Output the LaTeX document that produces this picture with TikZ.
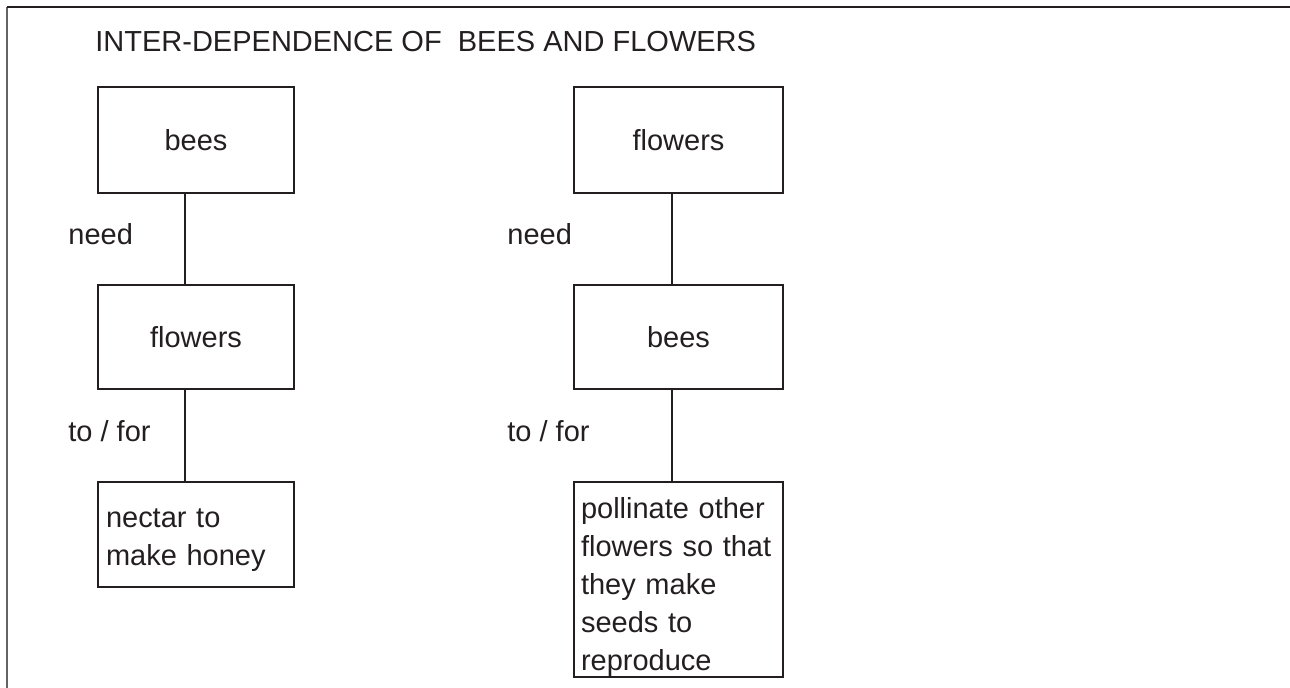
\documentclass[tikz,border=0pt]{standalone}
\usepackage{fontspec}
\setmainfont{Liberation Sans}
\definecolor{ink}{HTML}{231F20}
% left-set lines, dropped a little inside their box
\newcommand{\boxlines}[2]{\raisebox{#1}[\height][\depth]{\begin{tabular}{@{}l@{}}#2\end{tabular}}}
\begin{document}
\begin{tikzpicture}[x=0.5pt,y=-0.5pt,
  every node/.style={font=\fontsize{14.5pt}{19pt}\selectfont, text=ink},
  box/.style={draw=ink, line width=1.25pt, inner sep=0pt},
  tag/.style={anchor=base west, inner sep=0pt},
  link/.style={draw=ink, line width=1.25pt}]
\useasboundingbox (0,0) rectangle (1290,688);

% open frame: left and top edges only
\draw[ink!70, line width=1pt] (7,688) -- (7,7);
\draw[ink, line width=1pt] (7,7) -- (1290,7);

\node[tag] (title) at (95,52) {INTER-DEPENDENCE OF\ \ BEES AND FLOWERS};

% left chain: bees need flowers
\node[box, minimum width=98pt, minimum height=53pt] (lbees) at (196,140) {bees};
\node[box, minimum width=98pt, minimum height=52pt] (lflowers) at (196,337) {flowers};
\node[box, minimum width=98pt, minimum height=52.5pt, text width=90pt,
      inner xsep=4pt, align=left] (lnectar) at (196,534.5)
      {\boxlines{-2pt}{nectar to\\make honey}};

% right chain: flowers need bees
\node[box, minimum width=104.5pt, minimum height=53pt] (rflowers) at (678.5,140) {flowers\hspace{6.5pt}};
\node[box, minimum width=104.5pt, minimum height=52pt] (rbees) at (678.5,337) {bees\hspace{6.5pt}};
\node[box, minimum width=104.5pt, minimum height=97.5pt, text width=97.5pt,
      inner xsep=3.5pt, align=left] (rpoll) at (678.5,579.5)
      {\boxlines{-3.75pt}{pollinate other\\flowers so that\\they make\\seeds to\\reproduce}};

% connector columns
\coordinate (lx) at (185,0);
\coordinate (rx) at (672,0);
\draw[link] (lbees.south -| lx) -- (lflowers.north -| lx);
\draw[link] (lflowers.south -| lx) -- (lnectar.north -| lx);
\draw[link] (rflowers.south -| rx) -- (rbees.north -| rx);
\draw[link] (rbees.south -| rx) -- (rpoll.north -| rx);

% link words
\node[tag] (lneed) at (68,245) {need};
\node[tag] (lfor) at (68,442) {to / for};
\node[tag] (rneed) at (507,245) {need};
\node[tag] (rfor) at (507,442) {to / for};
\end{tikzpicture}
\end{document}
